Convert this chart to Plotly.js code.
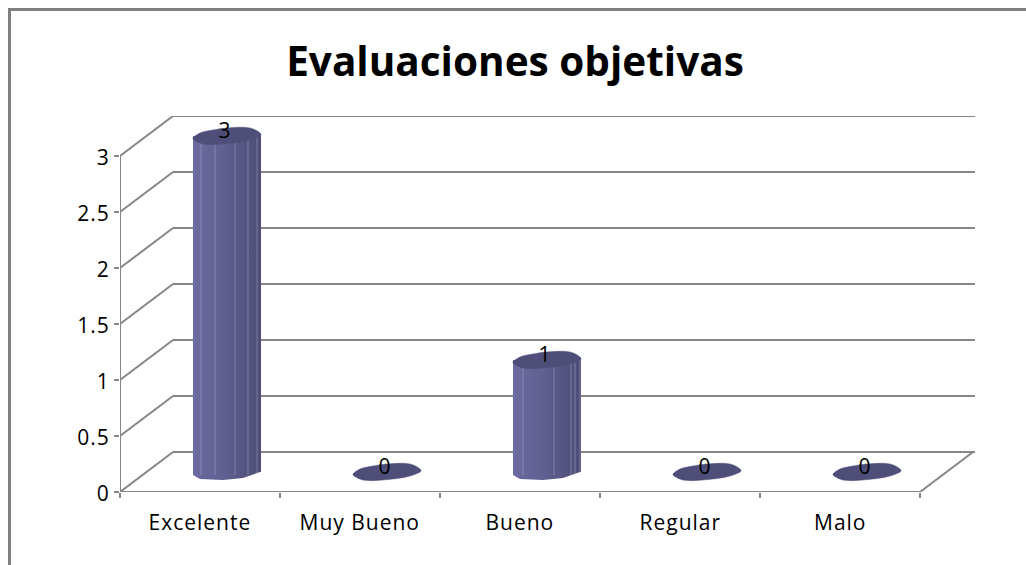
<!DOCTYPE html>
<html>
<head>
<meta charset="utf-8">
<script src="https://cdn.plot.ly/plotly-3.0.1.min.js"></script>
<style>html,body{margin:0;padding:0;background:#fff}#c{width:1026px;height:565px}
#c text{letter-spacing:1px}
#c .gtitle{letter-spacing:0}</style>
</head>
<body>
<div id="c"></div>
<script>
// Data
const categories = ["Excelente", "Muy Bueno", "Bueno", "Regular", "Malo"];
const values = [3, 0, 1, 0, 0];
const yTicks = [0, 0.5, 1, 1.5, 2, 2.5, 3];
const yTickText = ["0", "0.5", "1", "1.5", "2", "2.5", "3"];

// Pseudo-3D projection, in axis units (one category = 160px, one y unit = 112px)
const depthX = 53 / 160, depthY = 40 / 112;
const barShiftX = 27 / 160, barShiftY = 20 / 112;
const xMin = -0.5, xMax = 4.84375, yMax = 3.357;
const ux = 1 / 160, uy = 1 / 112;

// Cylinder cross-section outline, from the centre of the disc
const capDx = [-34, -27, -14, 0, 23, 33, 34, 23, 6, -24, -34];
const capDy = [2, -3, -6, -8, -8, -3, -1, 4, 7, 8, 3];
// lower rim of the side wall
const rimDx = [-34, -27, -4, 16, 33, 34];
const rimDy = [3, 7, 8, 6, 0, -2];
// light facet lines on the two tall bars
const facets = {0: [-26, -12, 8, 21, 30], 2: [-24, 7, 24, 28, 33]};

const gray = "#868686";
const font = "'Open Sans', Lato, sans-serif";
const W = 855, H = 376, L = 120, T = 116;
const px = x => (x - L) / W, py = y => 1 - (y - T) / H;

const shapes = [];
const line = (x0, y0, x1, y1) => shapes.push({type: "line", layer: "below", xref: "x", yref: "y",
  x0, y0, x1, y1, line: {color: gray, width: 2}});
yTicks.forEach(v => {
  line(xMin, v, xMin + depthX, v + depthY);
  line(xMin + depthX, v + depthY, xMax, v + depthY);
});
line(xMin, 0, xMin, yTicks[yTicks.length - 1]);
line(xMin, 0, 4.5, 0);
line(4.5, 0, 4.5 + depthX, depthY);
// chart frame: left and top edges only, the others run off the picture
[[9.5, 565, 9.5, 8], [8, 9.5, 1026, 9.5]].forEach(f => shapes.push({
  type: "line", xref: "paper", yref: "paper",
  x0: px(f[0]), y0: py(f[1]), x1: px(f[2]), y1: py(f[3]), line: {color: "#808080", width: 3}}));

const traces = [];
traces.push({type: "bar", x: categories.map((c, i) => i), y: values, base: barShiftY, width: 68 / 160,
  offset: barShiftX - 34 / 160, marker: {color: "#5c5c8c", line: {width: 0}},
  hoverinfo: "skip", showlegend: false});

categories.forEach((c, i) => {
  const cx = i + barShiftX, base = barShiftY, top = base + values[i];
  if (values[i] > 0) {
    const sx = [cx + capDx[0] * ux, cx + capDx[6] * ux], sy = [top - capDy[0] * uy, top - capDy[6] * uy];
    for (let k = rimDx.length - 1; k >= 0; k--) {
      sx.push(cx + rimDx[k] * ux); sy.push(base - rimDy[k] * uy);
    }
    sx.push(sx[0]); sy.push(sy[0]);
    traces.push({type: "scatter", mode: "lines", x: sx, y: sy, fill: "toself", line: {width: 0},
      fillgradient: {type: "horizontal", colorscale: [[0, "#6b6ba0"], [0.45, "#5f5f92"], [1, "#4d4d76"]]},
      hoverinfo: "skip", showlegend: false});
    (facets[i] || []).forEach(d => traces.push({type: "scatter", mode: "lines",
      x: [cx + d * ux, cx + d * ux], y: [base - 3 * uy, top + 2 * uy],
      line: {color: "rgba(190,190,220,0.4)", width: 1}, hoverinfo: "skip", showlegend: false}));
  }
  // top disc
  const dx = capDx.map(d => cx + d * ux).concat(cx + capDx[0] * ux);
  const dy = capDy.map(d => top - d * uy).concat(top - capDy[0] * uy);
  traces.push({type: "scatter", mode: "lines", x: dx, y: dy, fill: "toself",
    fillcolor: "#4e4e78", line: {color: "#4e4e78", width: 0.5, shape: "spline", smoothing: 1},
    hoverinfo: "skip", showlegend: false});
});

// data labels
traces.push({type: "scatter", mode: "text", x: categories.map((c, i) => i + barShiftX - 2 * ux),
  y: values.map(v => v + barShiftY + 3 * uy), text: values.map(String), textposition: "middle center",
  textfont: {family: font, size: 21, color: "#000"}, hoverinfo: "skip", showlegend: false});

const layout = {
  width: 1026, height: 565,
  margin: {l: L, r: 1026 - L - W, t: T, b: 565 - T - H, pad: 0},
  paper_bgcolor: "#fff", plot_bgcolor: "rgba(0,0,0,0)",
  showlegend: false,
  title: {text: "<b>Evaluaciones objetivas</b>", font: {family: font, size: 40.5, color: "#000"},
    x: 515 / 1026, xanchor: "center", y: 1 - 62 / 565, yanchor: "middle"},
  xaxis: {type: "linear", range: [xMin, xMax], tickmode: "array",
    tickvals: [-0.5, 0.5, 1.5, 2.5, 3.5, 4.5], ticktext: ["", "", "", "", "", ""],
    ticks: "outside", ticklen: 5, tickwidth: 1.5, tickcolor: gray,
    showgrid: false, zeroline: false, showline: false, fixedrange: true},
  yaxis: {range: [0, yMax], tickmode: "array", tickvals: yTicks, ticktext: yTickText,
    ticks: "outside", ticklen: 5, tickwidth: 1.5, tickcolor: gray, ticklabelshift: 2,
    tickfont: {family: font, size: 21, color: "#000"},
    showgrid: false, zeroline: false, showline: false, fixedrange: true},
  shapes,
  annotations: categories.map((c, i) => ({text: c, x: i, y: 0, xref: "x", yref: "y", yshift: -30,
    showarrow: false, xanchor: "center", yanchor: "middle",
    font: {family: font, size: 21, color: "#000"}}))
};
Plotly.newPlot("c", traces, layout, {displayModeBar: false, staticPlot: true});
</script>
</body>
</html>
